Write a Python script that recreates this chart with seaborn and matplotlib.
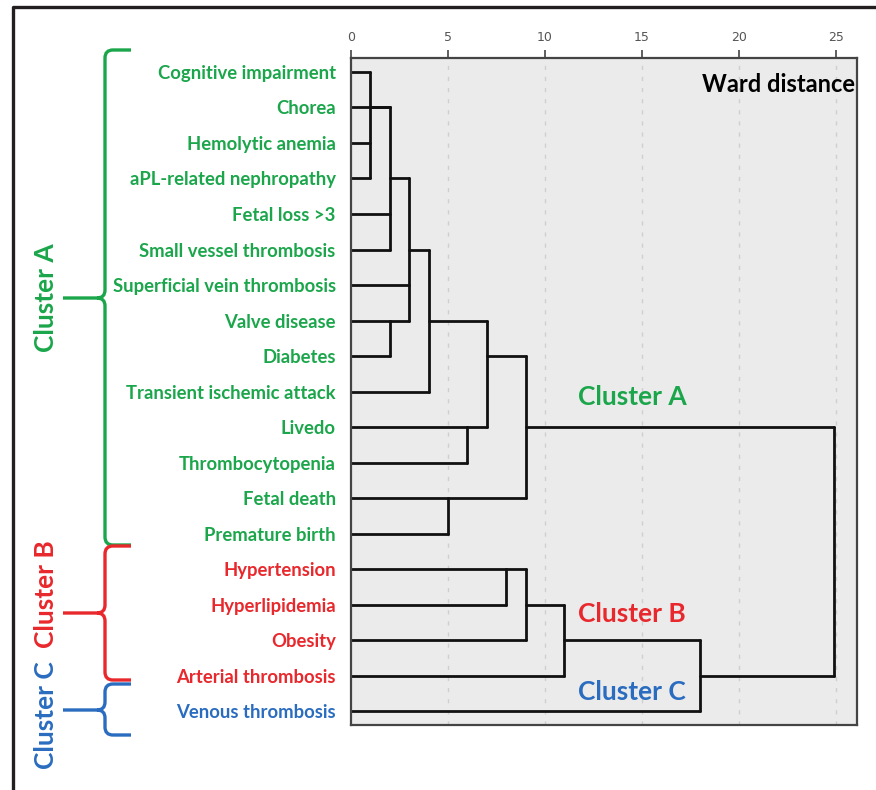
import matplotlib
matplotlib.use("Agg")
import matplotlib.pyplot as plt
from matplotlib.path import Path
from matplotlib.patches import PathPatch
import pandas as pd
import seaborn as sns

# rows of the dendrogram, top to bottom
labels = ['Cognitive impairment', 'Chorea', 'Hemolytic anemia', 'aPL-related nephropathy',
          'Fetal loss >3', 'Small vessel thrombosis', 'Superficial vein thrombosis',
          'Valve disease', 'Diabetes', 'Transient ischemic attack', 'Livedo',
          'Thrombocytopenia', 'Fetal death', 'Premature birth', 'Hypertension',
          'Hyperlipidemia', 'Obesity', 'Arterial thrombosis', 'Venous thrombosis']
groups = ['A'] * 14 + ['B'] * 4 + ['C']

# merges (SPSS style): children, ward distance, row where the node's link leaves
merge_children = [(0, 2, 3), ('n0', 1, 4, 5), (7, 8), ('n1', 6, 'n2'), ('n3', 9),
                  (10, 11), ('n4', 'n5'), (12, 13), ('n6', 'n7'), (14, 15),
                  ('n9', 16), ('n10', 17), ('n11', 18), ('n8', 'n12')]
merge_height = [1, 2, 2, 3, 4, 6, 7, 5, 9, 8, 9, 11, 18, 24.9]
merge_anchor = [1, 3, 7, 5, 7, 10, 8, 12, 10, 14, 15, 16, 17, None]

ticks = [0, 5, 10, 15, 20, 25]
colors = {'A': '#1ba64b', 'B': '#e8282c', 'C': '#2a6cbf'}

# build line segments
rows = []
seg = 0
for i, (kids, h) in enumerate(zip(merge_children, merge_height)):
    ys = []
    for k in kids:
        if isinstance(k, str):
            j = int(k[1:])
            y0, x0 = merge_anchor[j], merge_height[j]
        else:
            y0, x0 = k, 0
        ys.append(y0)
        rows += [dict(seg=seg, x=x0, y=y0), dict(seg=seg, x=h, y=y0)]
        seg += 1
    rows += [dict(seg=seg, x=h, y=min(ys)), dict(seg=seg, x=h, y=max(ys))]
    seg += 1
segs = pd.DataFrame(rows)

sns.set_style('white')
plt.rcParams['font.family'] = ['Lato', 'DejaVu Sans']

fig = plt.figure(figsize=(8.76, 7.9), dpi=100)
ax = fig.add_axes([351 / 876, 1 - 725 / 790, 506 / 876, (725 - 58) / 790])
ax.set_facecolor('#ebebeb')

for t in ticks[1:]:
    ax.axvline(t, color='#cfcfcf', lw=1, ls=(0, (3, 5)), zorder=0)

sns.lineplot(data=segs, x='x', y='y', units='seg', estimator=None, sort=False,
             color='#111111', lw=2.0, ax=ax, legend=False)

ax.set_xlim(0, 26.08)
ax.set_ylim(18.38, -0.39)
ax.xaxis.tick_top()
ax.set_xticks(ticks)
ax.set_xticklabels([str(t) for t in ticks], fontsize=9, color='#555555',
                   family=['Liberation Sans Narrow', 'DejaVu Sans'])
ax.tick_params(axis='x', length=6, width=1.2, color='#444444', pad=4)
ax.set_yticks(range(len(labels)))
ax.set_yticklabels(labels, fontsize=13.3, fontweight='bold')
ax.tick_params(axis='y', length=0, pad=11)
for lab, g in zip(ax.get_yticklabels(), groups):
    lab.set_color(colors[g])
ax.set_xlabel('')
ax.set_ylabel('')
for s in ax.spines.values():
    s.set_color('#444444')
    s.set_linewidth(1.6)

ax.text(26.0, 0.35, 'Ward distance', ha='right', va='center', fontsize=17,
        fontweight='bold', color='black')
ax.text(11.7, 9.15, 'Cluster A', ha='left', va='center', fontsize=19,
        fontweight='bold', color=colors['A'])
ax.text(11.7, 15.25, 'Cluster B', ha='left', va='center', fontsize=19,
        fontweight='bold', color=colors['B'])
ax.text(11.7, 17.45, 'Cluster C', ha='left', va='center', fontsize=19,
        fontweight='bold', color=colors['C'])

# overlay in pixel coordinates for the frame and braces
ov = fig.add_axes([0, 0, 1, 1], zorder=-1)
ov.set_xlim(0, 876)
ov.set_ylim(790, 0)
ov.axis('off')
ov.plot([13, 13, 876], [790, 7, 7], color='#231f20', lw=2.4, solid_capstyle='butt')


def brace(y0, y1, ytip, color, xs=105, xend=131, xtip=63, r=8):
    verts = [(xend, y0), (xs + r, y0), (xs, y0), (xs, y0 + r), (xs, ytip - r),
             (xs, ytip), (xs - r, ytip), (xtip, ytip),
             (xend, y1), (xs + r, y1), (xs, y1), (xs, y1 - r), (xs, ytip + r),
             (xs, ytip), (xs - r, ytip)]
    codes = [Path.MOVETO, Path.LINETO, Path.CURVE3, Path.CURVE3, Path.LINETO,
             Path.CURVE3, Path.CURVE3, Path.LINETO,
             Path.MOVETO, Path.LINETO, Path.CURVE3, Path.CURVE3, Path.LINETO,
             Path.CURVE3, Path.CURVE3]
    ov.add_patch(PathPatch(Path(verts, codes), fill=False, ec=color, lw=2.4))


brace(50, 545, 298, colors['A'])
brace(546, 680, 613, colors['B'])
brace(684, 735, 710, colors['C'])
ov.text(46, 298, 'Cluster A', rotation=90, ha='center', va='center', fontsize=19,
        fontweight='bold', color=colors['A'])
ov.text(46, 594, 'Cluster B', rotation=90, ha='center', va='center', fontsize=19,
        fontweight='bold', color=colors['B'])
ov.text(46, 715, 'Cluster C', rotation=90, ha='center', va='center', fontsize=19,
        fontweight='bold', color=colors['C'])

fig.savefig('out.png', dpi=100)
